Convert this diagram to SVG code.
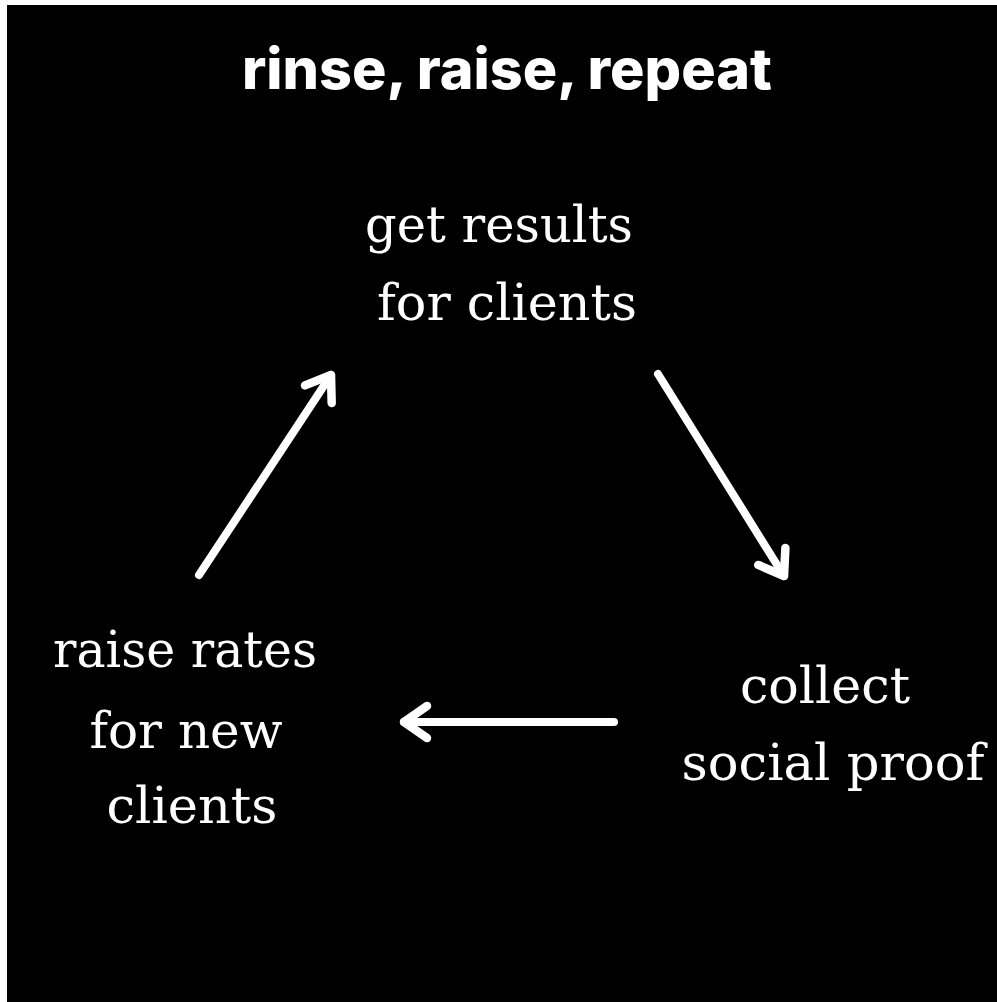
<svg xmlns="http://www.w3.org/2000/svg" width="997" height="1002" viewBox="0 0 997 1002">
  <style>
    .title { font-family: "Inter", "DejaVu Sans", sans-serif; font-weight: 800; font-size: 56px; fill: #ffffff; text-anchor: middle; }
    .label { font-family: "DejaVu Serif", "Liberation Serif", serif; font-size: 50px; fill: #ffffff; text-anchor: middle; }
    .conn { stroke: #ffffff; stroke-width: 8; stroke-linecap: round; fill: none; }
  </style>
  <defs>
    <marker id="chevron" markerUnits="userSpaceOnUse" viewBox="-34 -24 44 48" markerWidth="44" markerHeight="48" refX="0" refY="0" orient="auto" overflow="visible">
      <path d="M -23 -16 L 0 0 L -23 16" stroke="#ffffff" stroke-width="8.5" stroke-linecap="round" stroke-linejoin="round" fill="none"/>
    </marker>
  </defs>

  <!-- canvas -->
  <rect x="0" y="0" width="997" height="1002" fill="#ffffff"/>
  <rect x="7" y="5" width="990" height="997" fill="#000000"/>

  <text class="title" x="507" y="89" textLength="530" lengthAdjust="spacingAndGlyphs">rinse, raise, repeat</text>

  <g id="node-results">
    <text class="label" x="499" y="242" textLength="268" lengthAdjust="spacingAndGlyphs">get results</text>
    <text class="label" x="507" y="320" textLength="260" lengthAdjust="spacingAndGlyphs">for clients</text>
  </g>

  <g id="node-proof">
    <text class="label" x="825" y="703" textLength="170" lengthAdjust="spacingAndGlyphs">collect</text>
    <text class="label" x="833" y="780" textLength="303" lengthAdjust="spacingAndGlyphs">social proof</text>
  </g>

  <g id="node-rates">
    <text class="label" x="185" y="667" textLength="264" lengthAdjust="spacingAndGlyphs">raise rates</text>
    <text class="label" x="186" y="748" textLength="193" lengthAdjust="spacingAndGlyphs">for new</text>
    <text class="label" x="192" y="823" textLength="171" lengthAdjust="spacingAndGlyphs">clients</text>
  </g>

  <g id="connectors">
    <line class="conn" x1="199" y1="575" x2="331" y2="375" marker-end="url(#chevron)"/>
    <line class="conn" x1="658" y1="374" x2="784" y2="576" marker-end="url(#chevron)"/>
    <line class="conn" x1="614" y1="722" x2="404" y2="722" marker-end="url(#chevron)"/>
  </g>
</svg>
